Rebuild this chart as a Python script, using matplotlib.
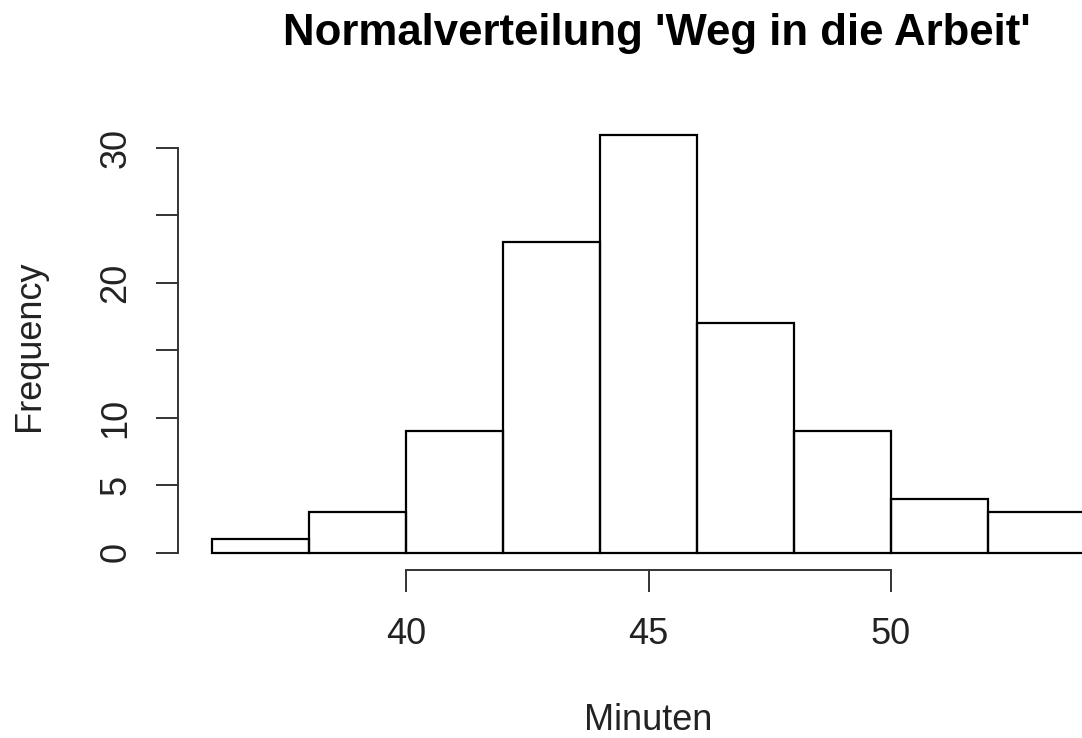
import matplotlib
matplotlib.use("Agg")
import matplotlib.pyplot as plt
import numpy as np

plt.rcParams["font.family"] = ["Liberation Sans", "DejaVu Sans"]

# histogram data (Minuten, Frequency)
bin_edges = [36, 38, 40, 42, 44, 46, 48, 50, 52, 54]
counts = [1, 3, 9, 23, 31, 17, 9, 4, 3]
x_ticks = [40, 45, 50]
y_ticks = [0, 5, 10, 15, 20, 25, 30]
y_labels = ["0", "5", "10", "", "20", "", "30"]

W, H = 1082, 738
fig = plt.figure(figsize=(W / 100, H / 100), dpi=100)
ax = fig.add_axes([0, 0, 1, 1])

# map pixels to data: 40 -> 406px, 50 -> 891px ; 0 -> 552.5px, 30 -> 148px
px_x = (891 - 406) / 10
px_y = (552.5 - 148) / 30
ax.set_xlim(40 - 406 / px_x, 40 + (W - 406) / px_x)
ax.set_ylim(-(H - 552.5) / px_y, 552.5 / px_y)

edges = np.array(bin_edges)
ax.bar(edges[:-1], counts, width=np.diff(edges), align="edge",
       fill=False, edgecolor="black", linewidth=1.6)

for s in ["top", "right"]:
    ax.spines[s].set_visible(False)
ax.spines["left"].set_position(("data", 40 - (406 - 178) / px_x))
ax.spines["bottom"].set_position(("data", -(570 - 552.5) / px_y))
ax.spines["left"].set_bounds(0, 30)
ax.spines["bottom"].set_bounds(40, 50)
for s in ["left", "bottom"]:
    ax.spines[s].set_linewidth(1.4)
    ax.spines[s].set_color("#333333")

ax.set_xticks(x_ticks)
ax.set_xticklabels([str(v) for v in x_ticks])
ax.set_yticks(y_ticks)
ax.set_yticklabels(y_labels, rotation=90, va="center")
ax.tick_params(axis="both", length=16, width=1.4, color="#333333",
               labelsize=26, labelcolor="#222222")
ax.tick_params(axis="x", pad=18)
ax.tick_params(axis="y", pad=16)
ax.patch.set_visible(False)

fig.text(657 / W, 1 - 34 / H, "Normalverteilung 'Weg in die Arbeit'",
         ha="center", va="center", fontsize=31.5, fontweight="bold")
fig.text(648 / W, 1 - 721 / H, "Minuten", ha="center", va="center",
         fontsize=26, color="#222222")
fig.text(30 / W, 1 - 346 / H, "Frequency", ha="center", va="center",
         rotation=90, fontsize=26, color="#222222")

fig.savefig("out.png", dpi=100)
